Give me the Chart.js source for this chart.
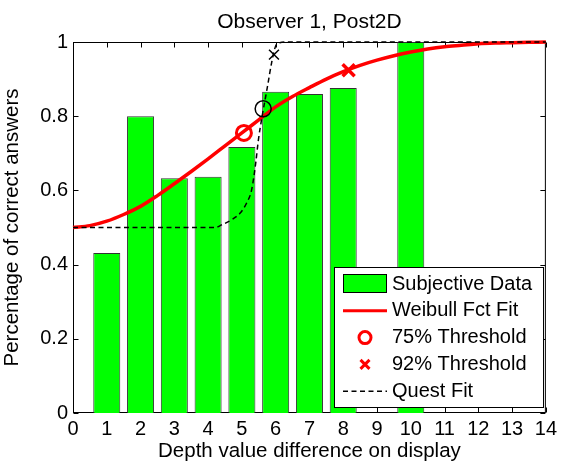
<!DOCTYPE html>
<html lang="en">
<head>
<meta charset="UTF-8">
<title>Observer 1, Post2D</title>
<style>
  html, body { margin: 0; padding: 0; background: #fff; }
  #wrap { width: 561px; height: 464px; }
</style>
<script src="https://cdn.jsdelivr.net/npm/chart.js"></script>
</head>
<body>
<div id="wrap"><canvas id="chart" width="561" height="464"></canvas></div>
<script>
// subjective data (bars)
const depthDiffs = [1, 2, 3, 4, 5, 6, 7, 8, 10];
const pctCorrect = [0.431, 0.80, 0.633, 0.637, 0.717, 0.866, 0.860, 0.876, 1.0];

// Weibull fit
const weibullX = [0, 0.5, 1, 1.5, 2, 2.5, 3, 3.5, 4, 4.5, 5, 5.5, 6, 6.5, 7,
                  7.5, 8, 8.5, 9, 9.5, 10, 10.5, 11, 11.5, 12, 12.5, 13, 13.5, 14];
const weibullY = [0.500, 0.505, 0.517, 0.535, 0.557, 0.586, 0.618, 0.651, 0.685, 0.720, 0.755, 0.790, 0.825, 0.853, 0.877,
                  0.900, 0.920, 0.937, 0.951, 0.963, 0.973, 0.981, 0.987, 0.991, 0.995, 0.997, 0.998, 0.999, 1.000];

// thresholds of the Weibull fit
const thr75X = [5.06], thr75Y = [0.755];
const thr92X = [8.16], thr92Y = [0.924];

// Quest fit (dashed) and its two markers
const questX = [0, 4.2, 4.4, 4.7, 4.95, 5.14, 5.29, 5.41, 5.49, 5.6, 5.76, 5.88, 6.0, 6.12, 6.3, 14];
const questY = [0.5, 0.5, 0.507, 0.521, 0.539, 0.566, 0.602, 0.674, 0.737, 0.80, 0.881, 0.944, 0.989, 0.998, 1.0, 1.0];
const questCircX = [5.63], questCircY = [0.820];
const questCrossX = [5.95], questCrossY = [0.966];

const xTicks = [0, 1, 2, 3, 4, 5, 6, 7, 8, 9, 10, 11, 12, 13, 14];
const yTicks = [0, 0.2, 0.4, 0.6, 0.8, 1];
const yTickLabels = ['0', '0.2', '0.4', '0.6', '0.8', '1'];

const legendLabels = ['Subjective Data', 'Weibull Fct Fit', '75% Threshold', '92% Threshold', 'Quest Fit'];

const FONT = "'Liberation Sans', Arial, sans-serif";
const pts = (xs, ys) => xs.map((x, i) => ({ x: x, y: ys[i] }));

// box + inward ticks on all four sides, MATLAB style
const framePlugin = {
  id: 'frame',
  beforeDatasetsDraw(chart) {
    const { ctx, chartArea: a, scales: { x, y } } = chart;
    const L = a.left + 0.5, R = a.right - 0.5, T = a.top + 0.5, B = a.bottom - 0.5;
    const len = 5;
    ctx.save();
    ctx.strokeStyle = '#000';
    ctx.lineWidth = 1;
    ctx.beginPath();
    xTicks.forEach(v => {
      const px = Math.round(x.getPixelForValue(v)) + 0.5;
      ctx.moveTo(px, B); ctx.lineTo(px, B - len);
      ctx.moveTo(px, T); ctx.lineTo(px, T + len);
    });
    yTicks.forEach(v => {
      const py = Math.round(y.getPixelForValue(v)) + 0.5;
      ctx.moveTo(L, py); ctx.lineTo(L + len, py);
      ctx.moveTo(R, py); ctx.lineTo(R - len, py);
    });
    ctx.stroke();
    ctx.strokeRect(L, T, R - L, B - T);
    ctx.restore();
  }
};

const titlePlugin = {
  id: 'topTitle',
  afterDraw(chart) {
    const { ctx, chartArea: a } = chart;
    ctx.save();
    ctx.font = '21px ' + FONT;
    ctx.fillStyle = '#000';
    ctx.textAlign = 'center';
    ctx.textBaseline = 'alphabetic';
    ctx.fillText('Observer 1, Post2D', (a.left + a.right) / 2, 28);
    ctx.restore();
  }
};

const legendPlugin = {
  id: 'boxLegend',
  afterDraw(chart) {
    const { ctx, chartArea: a } = chart;
    const bx = 334, by = 267, bw = 209, bh = 140;
    ctx.save();
    ctx.fillStyle = '#fff';
    ctx.fillRect(bx, by, bw, bh);
    ctx.strokeStyle = '#000';
    ctx.lineWidth = 1;
    ctx.strokeRect(bx + 0.5, by + 0.5, bw, bh);

    const rowY = i => 284 + i * 26.8;
    const sx0 = 343, sx1 = 387, sc = 365;

    // bar swatch
    ctx.fillStyle = '#00ff00';
    ctx.fillRect(sx0, rowY(0) - 10, sx1 - sx0, 19);
    ctx.strokeStyle = '#000';
    ctx.strokeRect(sx0 + 0.5, rowY(0) - 9.5, sx1 - sx0 - 1, 18);

    // red line
    ctx.strokeStyle = '#ff0000';
    ctx.lineWidth = 3;
    ctx.beginPath();
    ctx.moveTo(sx0, rowY(1)); ctx.lineTo(sx1, rowY(1));
    ctx.stroke();

    // red circle
    ctx.beginPath();
    ctx.arc(sc, rowY(2), 6, 0, Math.PI * 2);
    ctx.stroke();

    // red cross
    const d = 4.5;
    ctx.beginPath();
    ctx.moveTo(sc - d, rowY(3) - d); ctx.lineTo(sc + d, rowY(3) + d);
    ctx.moveTo(sc + d, rowY(3) - d); ctx.lineTo(sc - d, rowY(3) + d);
    ctx.stroke();

    // dashed black
    ctx.strokeStyle = '#000';
    ctx.lineWidth = 1.5;
    ctx.setLineDash([5, 3.5]);
    ctx.beginPath();
    ctx.moveTo(sx0, rowY(4)); ctx.lineTo(sx1, rowY(4));
    ctx.stroke();
    ctx.setLineDash([]);

    ctx.fillStyle = '#000';
    ctx.font = '20px ' + FONT;
    ctx.textAlign = 'left';
    ctx.textBaseline = 'middle';
    legendLabels.forEach((t, i) => ctx.fillText(t, 392, rowY(i)));
    ctx.restore();
  }
};

new Chart(document.getElementById('chart'), {
  type: 'bar',
  data: {
    datasets: [
      {
        type: 'line', label: 'Quest markers x', data: pts(questCrossX, questCrossY),
        showLine: false, pointStyle: 'crossRot', pointRadius: 7, borderColor: '#000',
        pointBorderWidth: 1.5, order: 1
      },
      {
        type: 'line', label: 'Quest markers o', data: pts(questCircX, questCircY),
        showLine: false, pointStyle: 'circle', pointRadius: 8, borderColor: '#000',
        backgroundColor: 'rgba(0,0,0,0)', pointBorderWidth: 1.5, order: 2
      },
      {
        type: 'line', label: 'Quest Fit', data: pts(questX, questY),
        borderColor: '#000', borderWidth: 1.5, borderDash: [5, 3.5], pointRadius: 0,
        cubicInterpolationMode: 'monotone', fill: false, order: 3
      },
      {
        type: 'line', label: '92% Threshold', data: pts(thr92X, thr92Y),
        showLine: false, pointStyle: 'crossRot', pointRadius: 8.5, borderColor: '#ff0000',
        pointBorderWidth: 3.5, order: 4
      },
      {
        type: 'line', label: '75% Threshold', data: pts(thr75X, thr75Y),
        showLine: false, pointStyle: 'circle', pointRadius: 7.5, borderColor: '#ff0000',
        backgroundColor: 'rgba(0,0,0,0)', pointBorderWidth: 3, order: 5
      },
      {
        type: 'line', label: 'Weibull Fct Fit', data: pts(weibullX, weibullY),
        borderColor: '#ff0000', borderWidth: 3.5, pointRadius: 0,
        cubicInterpolationMode: 'monotone', fill: false, order: 6
      },
      {
        label: 'Subjective Data', data: pts(depthDiffs, pctCorrect),
        backgroundColor: '#00ff00', borderColor: '#333333', borderWidth: 1,
        barPercentage: 0.8, categoryPercentage: 1.0, order: 7
      }
    ]
  },
  options: {
    responsive: false,
    animation: false,
    devicePixelRatio: 1,
    clip: false,
    layout: { padding: { top: 42, right: 11, left: 0, bottom: 0 } },
    plugins: { legend: { display: false }, tooltip: { enabled: false }, title: { display: false } },
    scales: {
      x: {
        type: 'linear', min: 0, max: 14, offset: false,
        grid: { display: false, drawTicks: false, offset: false },
        border: { display: false },
        afterBuildTicks: s => { s.ticks = xTicks.map(v => ({ value: v })); },
        afterFit: s => { s.height = 51; },
        ticks: { color: '#000', font: { family: FONT, size: 20 }, padding: 4, maxRotation: 0, autoSkip: false },
        title: {
          display: true, text: 'Depth value difference on display', color: '#000',
          font: { family: FONT, size: 20.5 }, padding: { top: 0, bottom: 0 }
        }
      },
      y: {
        type: 'linear', min: 0, max: 1,
        grid: { display: false, drawTicks: false },
        border: { display: false },
        afterBuildTicks: s => { s.ticks = yTicks.map(v => ({ value: v })); },
        afterFit: s => { s.width = 73; },
        ticks: {
          color: '#000', font: { family: FONT, size: 20 }, padding: 5,
          callback: (v) => yTickLabels[yTicks.indexOf(v)]
        },
        title: {
          display: true, text: 'Percentage of correct answers', color: '#000',
          font: { family: FONT, size: 20.5 }, padding: { top: 0, bottom: 0 }
        }
      }
    }
  },
  plugins: [framePlugin, titlePlugin, legendPlugin]
});
</script>
</body>
</html>
